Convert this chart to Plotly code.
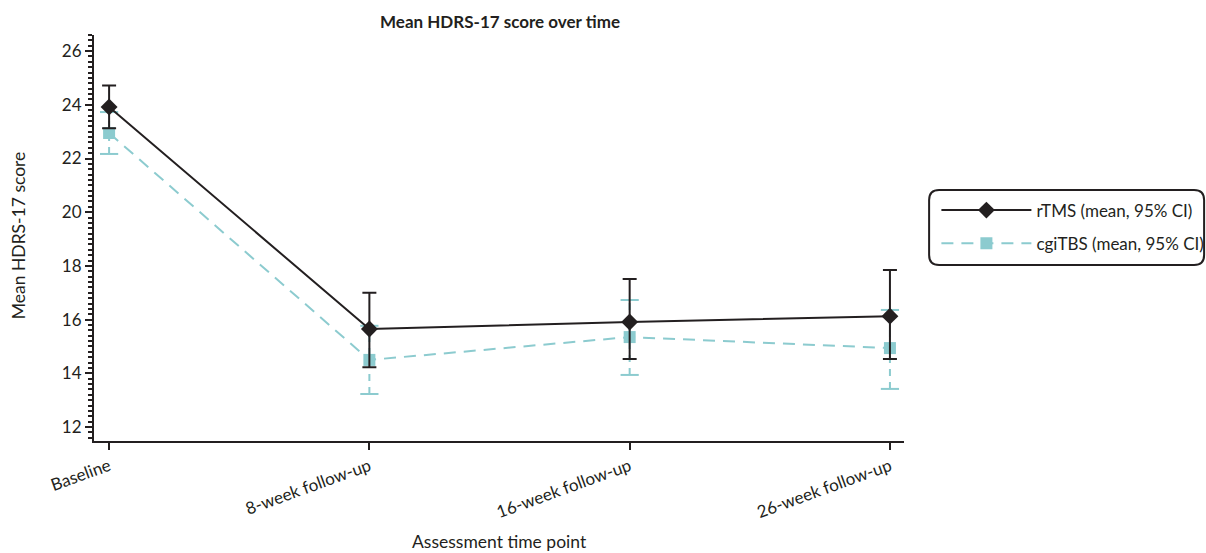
import plotly.graph_objects as go

categories = ["Baseline", "8-week follow-up", "16-week follow-up", "26-week follow-up"]
rtms_mean = [23.92, 15.65, 15.91, 16.13]
rtms_upper = [24.72, 17.00, 17.51, 17.85]
rtms_lower = [23.13, 14.23, 14.53, 14.53]
cgi_mean = [22.95, 14.50, 15.35, 14.94]
cgi_upper = [23.73, 15.77, 16.73, 16.36]
cgi_lower = [22.17, 13.23, 13.94, 13.42]

BLACK = "#231f20"
TEAL = "#8ccbcf"
FONT = "Lato, 'Open Sans', sans-serif"

xi = list(range(len(categories)))

fig = go.Figure()

# cgiTBS dashed CI whiskers
wx, wy = [], []
for i, lo, hi in zip(xi, cgi_lower, cgi_upper):
    wx += [i, i, None]
    wy += [lo, hi, None]
fig.add_trace(go.Scatter(x=wx, y=wy, mode="lines", showlegend=False, hoverinfo="skip",
                         line=dict(color=TEAL, width=2, dash="7px,6px")))
fig.add_trace(go.Scatter(x=xi + xi, y=cgi_lower + cgi_upper, mode="markers", showlegend=False,
                         hoverinfo="skip",
                         marker=dict(symbol="line-ew", size=13, line=dict(color=TEAL, width=2))))
fig.add_trace(go.Scatter(
    x=xi, y=cgi_mean, mode="lines+markers", name="cgiTBS (mean, 95% CI)",
    legendgroup="b", legendrank=2,
    line=dict(color=TEAL, width=2, dash="12px,8px"),
    marker=dict(symbol="square", size=12, color=TEAL),
))

fig.add_trace(go.Scatter(
    x=xi, y=rtms_mean, mode="lines+markers", name="rTMS (mean, 95% CI)",
    legendgroup="a", legendrank=1,
    line=dict(color=BLACK, width=2),
    marker=dict(symbol="diamond", size=13, color=BLACK),
    error_y=dict(type="data", symmetric=False,
                 array=[u - m for u, m in zip(rtms_upper, rtms_mean)],
                 arrayminus=[m - l for m, l in zip(rtms_mean, rtms_lower)],
                 color=BLACK, thickness=2, width=7),
))

# rounded legend frame (paper coordinates)
x0, x1 = 1.031, 1.3705
y0, y1 = 0.4335, 0.618
dx, dy = 10 / 810, 10 / 406
path = (f"M {x0+dx},{y1} L {x1-dx},{y1} Q {x1},{y1} {x1},{y1-dy} "
        f"L {x1},{y0+dy} Q {x1},{y0} {x1-dx},{y0} L {x0+dx},{y0} "
        f"Q {x0},{y0} {x0},{y0+dy} L {x0},{y1-dy} Q {x0},{y1} {x0+dx},{y1} Z")

fig.update_layout(
    width=1206, height=553,
    margin=dict(l=94, r=302, t=35, b=112, autoexpand=False),
    paper_bgcolor="white", plot_bgcolor="white",
    font=dict(family=FONT, color=BLACK, size=17),
    title=dict(text="<b>Mean HDRS-17 score over time</b>", x=0.4146, xanchor="center",
               y=0.96, yanchor="middle", font=dict(size=17, color=BLACK)),
    showlegend=True,
    legend=dict(x=1.04, xanchor="left", y=0.527, yanchor="middle",
                traceorder="grouped", itemwidth=90,
                font=dict(size=17, color=BLACK), bgcolor="rgba(0,0,0,0)",
                borderwidth=0, tracegroupgap=8),
    shapes=[dict(type="path", xref="paper", yref="paper", path=path,
                 line=dict(color=BLACK, width=2))],
    annotations=[
        dict(text="Mean HDRS-17 score", xref="paper", yref="paper", x=-0.0938, y=0.507,
             xanchor="center", yanchor="middle", textangle=-90, showarrow=False,
             font=dict(size=17.5, color=BLACK)),
        dict(text="Assessment time point", xref="paper", yref="paper", x=0.501, y=-0.2485,
             xanchor="center", yanchor="middle", showarrow=False,
             font=dict(size=17.5, color=BLACK)),
    ],
    xaxis=dict(
        range=[-0.058, 3.054], tickmode="array", tickvals=xi, ticktext=categories,
        tickangle=-20, showgrid=False, zeroline=False, automargin=False,
        showline=True, linecolor=BLACK, linewidth=2,
        ticks="outside", ticklen=7, tickwidth=2, tickcolor=BLACK,
        tickfont=dict(size=17, color=BLACK),
    ),
    yaxis=dict(
        range=[11.48, 26.6], tickmode="array", tickvals=[12, 14, 16, 18, 20, 22, 24, 26],
        showgrid=False, zeroline=False, automargin=False,
        showline=True, linecolor=BLACK, linewidth=2,
        ticks="outside", ticklen=7, tickwidth=2, tickcolor=BLACK,
        tickfont=dict(size=17, color=BLACK),
        minor=dict(dtick=0.2, tick0=12, ticks="outside", ticklen=4, tickwidth=1.5, tickcolor=BLACK, showgrid=False),
    ),
)

fig.write_html("out.html")
